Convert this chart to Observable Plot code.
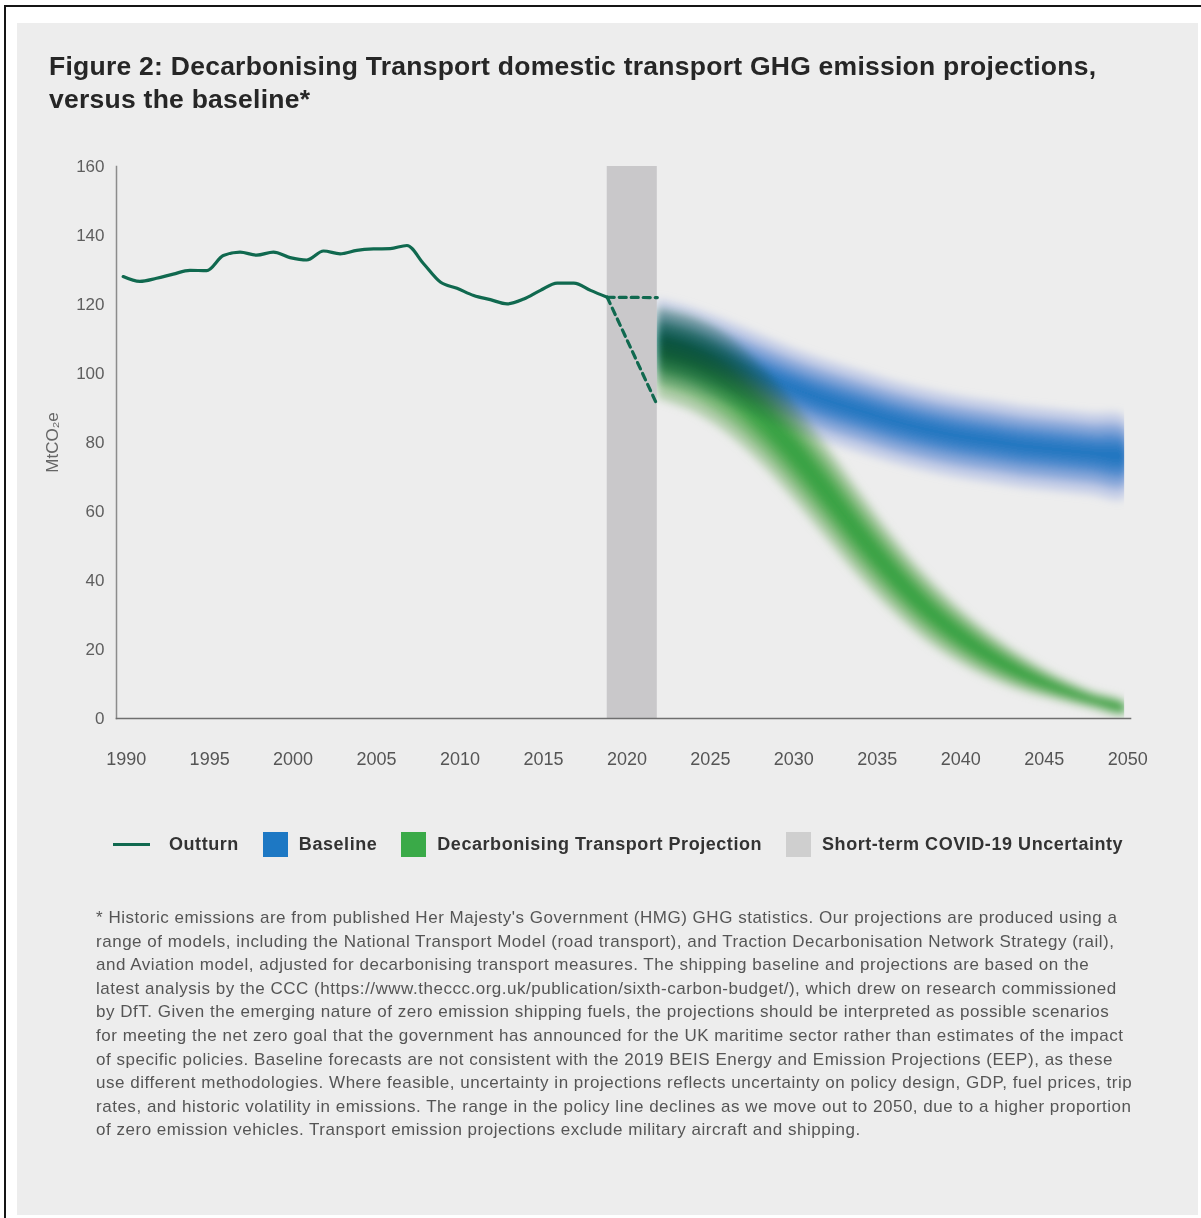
<!DOCTYPE html>
<html>
<head>
<meta charset="utf-8">
<script src="https://cdn.jsdelivr.net/npm/d3@7"></script>
<script src="https://cdn.jsdelivr.net/npm/@observablehq/plot@0.6"></script>
<style>
  html, body { margin: 0; padding: 0; background: #ffffff; }
  body { width: 1201px; height: 1218px; position: relative; overflow: hidden; font-family: "Liberation Sans", Arial, Helvetica, sans-serif; }
  #border { position: absolute; left: 4px; top: 5px; width: 1200px; height: 1220px; border-left: 2px solid #151515; border-top: 2px solid #151515; }
  #panel { position: absolute; left: 17px; top: 23px; width: 1181px; height: 1192px; background: #ededed; }
  #title { position: absolute; left: 49px; top: 50px; font-weight: bold; font-size: 26.5px; letter-spacing: 0.25px; line-height: 33px; color: #262626; white-space: nowrap; }
  #chart { position: absolute; left: 17px; top: 130px; }
  #legend { position: absolute; left: 113px; top: 832px; height: 25px; display: flex; align-items: center; font-weight: bold; font-size: 18px; letter-spacing: 0.55px; color: #333; white-space: nowrap; }
  #legend .sw { display: inline-block; flex: none; }
  #note { position: absolute; left: 96px; top: 906px; font-size: 17px; letter-spacing: 0.52px; line-height: 23.6px; color: #555; white-space: nowrap; }
</style>
</head>
<body>
<div id="border"></div>
<div id="panel"></div>
<div id="title">Figure 2: Decarbonising Transport domestic transport GHG emission projections,<br>versus the baseline*</div>
<div id="chart"></div>
<div id="legend"></div>
<div id="note"></div>
<script>
// ---------- data ----------
const outturnYears = [1990,1991,1992,1993,1994,1995,1996,1997,1998,1999,2000,2001,2002,2003,2004,2005,2006,2007,2008,2009,2010,2011,2012,2013,2014,2015,2016,2017,2018,2019];
const outturnValues = [128.1,126.7,127.6,128.8,129.9,129.8,134.2,135.2,134.3,135.2,133.6,132.9,135.5,134.7,135.7,136.1,136.2,137.1,131.8,126.5,124.7,122.6,121.4,120.2,121.6,124.1,126.2,126.2,124.1,122.1];

const dashYears = [2019, 2022];
const dashBaseline = [122.1, 122.0];
const dashProjection = [122.1, 90.8];

const covidStart = [2019];
const covidEnd = [2022];

const bandYears = [2022,2024,2026,2028,2030,2032,2034,2036,2038,2040,2042,2044,2046,2048,2050];
const baselineMid  = [110,107.5,104,100,96,92.5,89.5,86.5,84,82,80.5,79,78,77,76];
const baselineHigh = [121.5,119,115.5,111.5,107.5,104,101,98,95.5,93.5,92,90.5,89.5,88.5,87.5];
const baselineLow  = [98,95.5,92,88,84,80.5,77.5,74.5,72,70,68.5,67,66,65,64];
const projectionMid  = [106,103,97.5,89,78.5,66.5,54,42.5,32.5,24.5,18,12.8,8.8,5.5,3];
const projectionHigh = [119,116.5,111.5,103,92.5,80,66.5,53.5,42,32.5,24.5,17.8,12.3,8,4.8];
const projectionLow  = [93,89.5,83.5,75,64.5,53,41.5,31.5,23,16.5,11.5,7.8,5.3,3,1.2];

const xTicks = [1990,1995,2000,2005,2010,2015,2020,2025,2030,2035,2040,2045,2050];
const yTicks = [0,20,40,60,80,100,120,140,160];
const yLabel = "MtCO₂e";

const legendLabels = ["Outturn", "Baseline", "Decarbonising Transport Projection", "Short-term COVID-19 Uncertainty"];
const noteLines = [
  "* Historic emissions are from published Her Majesty's Government (HMG) GHG statistics. Our projections are produced using a",
  "range of models, including the National Transport Model (road transport), and Traction Decarbonisation Network Strategy (rail),",
  "and Aviation model, adjusted for decarbonising transport measures. The shipping baseline and projections are based on the",
  "latest analysis by the CCC (https://www.theccc.org.uk/publication/sixth-carbon-budget/), which drew on research commissioned",
  "by DfT. Given the emerging nature of zero emission shipping fuels, the projections should be interpreted as possible scenarios",
  "for meeting the net zero goal that the government has announced for the UK maritime sector rather than estimates of the impact",
  "of specific policies. Baseline forecasts are not consistent with the 2019 BEIS Energy and Emission Projections (EEP), as these",
  "use different methodologies. Where feasible, uncertainty in projections reflects uncertainty on policy design, GDP, fuel prices, trip",
  "rates, and historic volatility in emissions. The range in the policy line declines as we move out to 2050, due to a higher proportion",
  "of zero emission vehicles. Transport emission projections exclude military aircraft and shipping."
];

// ---------- tables ----------
const outturn = outturnYears.map((y, i) => ({year: y, value: outturnValues[i]}));
const dashes = [];
dashYears.forEach((y, i) => dashes.push({series: "baseline", year: y, value: dashBaseline[i]}));
dashYears.forEach((y, i) => dashes.push({series: "projection", year: y, value: dashProjection[i]}));
const covid = covidStart.map((s, i) => ({start: s, end: covidEnd[i]}));
const baseline = bandYears.map((y, i) => ({year: y, mid: baselineMid[i], lo: baselineLow[i], hi: baselineHigh[i]}));
const projection = bandYears.map((y, i) => ({year: y, mid: projectionMid[i], lo: projectionLow[i], hi: projectionHigh[i]}));

// fuzzy band: nested closed outlines of the same range (upper edge forward, lower edge back)
const blueLayers = [[1, "#a3b3e2", 0.55], [0.72, "#5d8cd1", 0.6], [0.45, "#2f7cc6", 0.7], [0.2, "#1a74be", 0.85]];
const greenLayers = [[1, "#a3cf99", 0.7], [0.72, "#66bb62", 0.65], [0.45, "#42b04a", 0.75], [0.2, "#38ad44", 0.85]];
function outline(data, k) {
  const up = data.map(d => ({year: d.year, value: d.mid + k * (d.hi - d.mid)}));
  const down = data.slice().reverse().map(d => ({year: d.year, value: d.mid - k * (d.mid - d.lo)}));
  return up.concat(down);
}
function bandMarks(data, layers) {
  return layers.map(([k, color, op]) => Plot.line(outline(data, k), {
    x: "year", y: "value", fill: color, fillOpacity: op, stroke: "none", curve: "catmull-rom"
  }));
}

const chart = Plot.plot({
  width: 1181, height: 680,
  marginLeft: 99, marginRight: 68, marginTop: 36, marginBottom: 92,
  style: {background: "transparent", fontFamily: "'Liberation Sans', Arial, sans-serif", overflow: "visible"},
  x: {domain: [1989.6, 2050.35]},
  y: {domain: [0, 160]},
  marks: [
    Plot.rect(covid, {x1: "start", x2: "end", fill: "#c9c8ca"}),
    ...bandMarks(baseline, blueLayers),
    ...bandMarks(projection, greenLayers),
    Plot.line(outturn, {x: "year", y: "value", stroke: "#10694f", strokeWidth: 3.2, curve: "monotone-x"}),
    Plot.line(dashes, {x: "year", y: "value", z: "series", stroke: "#10694f", strokeWidth: 3.2, strokeDasharray: "7,5"}),
    Plot.frame({anchor: "left", stroke: "#8c8c8c", strokeWidth: 1.5}),
    Plot.frame({anchor: "bottom", stroke: "#6f6f6f", strokeWidth: 1.6}),
    Plot.axisY({ticks: yTicks, tickSize: 0, tickPadding: 12, fontSize: 17, color: "#5e5e5e", label: null}),
    Plot.axisX({ticks: xTicks, tickSize: 0, tickPadding: 34, fontSize: 18, color: "#555", label: null, dx: 3, tickFormat: d => String(d)}),
    Plot.text([yLabel], {text: d => d, frameAnchor: "left", textAnchor: "middle", lineAnchor: "middle", rotate: -90, dx: -64, fontSize: 17, fill: "#666"})
  ]
});
document.getElementById("chart").appendChild(chart);

// group band layers, soften them, clip to the projection period, blend projection over baseline
try {
  const ns = "http://www.w3.org/2000/svg";
  const xs = chart.scale("x"), ys = chart.scale("y");
  const x0 = xs.apply(bandYears[0]), x1 = xs.apply(bandYears[bandYears.length - 1]);
  const yb = ys.apply(0), yt = ys.apply(160);
  const defs = document.createElementNS(ns, "defs");
  const f = document.createElementNS(ns, "filter");
  f.setAttribute("id", "softband");
  f.setAttribute("x", "-10%"); f.setAttribute("y", "-20%");
  f.setAttribute("width", "120%"); f.setAttribute("height", "140%");
  const b = document.createElementNS(ns, "feGaussianBlur");
  b.setAttribute("stdDeviation", "4");
  f.appendChild(b); defs.appendChild(f);
  let clipOK = [x0, x1, yb, yt].every(v => isFinite(v));
  if (clipOK) {
    const cp = document.createElementNS(ns, "clipPath");
    cp.setAttribute("id", "bandclip");
    const r = document.createElementNS(ns, "rect");
    r.setAttribute("x", x0); r.setAttribute("y", yt);
    r.setAttribute("width", x1 - x0); r.setAttribute("height", yb - yt);
    cp.appendChild(r); defs.appendChild(cp);
  }
  chart.appendChild(defs);
  [blueLayers, greenLayers].forEach((layers, idx) => {
    const gs = layers.map(([, color]) => chart.querySelector(`g[fill="${color}"]`)).filter(Boolean);
    if (!gs.length) return;
    const outer = document.createElementNS(ns, "g");
    const inner = document.createElementNS(ns, "g");
    gs[0].parentNode.insertBefore(outer, gs[0]);
    outer.appendChild(inner);
    gs.forEach(g => inner.appendChild(g));
    inner.setAttribute("filter", "url(#softband)");
    if (clipOK) outer.setAttribute("clip-path", "url(#bandclip)");
    if (idx === 1) outer.style.mixBlendMode = "multiply";
  });
} catch (e) { console.error(e); }

// legend
const legendSwatches = [
  {type: "line", color: "#10694f"},
  {type: "box", color: "#1d78c4"},
  {type: "box", color: "#3aaa48"},
  {type: "box", color: "#cfcfcf"}
];
const legend = document.getElementById("legend");
legendLabels.forEach((label, i) => {
  const s = legendSwatches[i];
  const sw = document.createElement("span");
  sw.className = "sw";
  if (s.type === "line") {
    sw.style.width = "37px"; sw.style.height = "3.5px"; sw.style.background = s.color; sw.style.marginRight = "19px";
  } else {
    sw.style.width = "25px"; sw.style.height = "25px"; sw.style.background = s.color; sw.style.marginRight = "11px";
  }
  const t = document.createElement("span");
  t.textContent = label;
  t.style.marginRight = "24px";
  legend.appendChild(sw); legend.appendChild(t);
});

// footnote
document.getElementById("note").innerHTML = noteLines.map(l => l.replace(/&/g, "&amp;")).join("<br>");
</script>
</body>
</html>
